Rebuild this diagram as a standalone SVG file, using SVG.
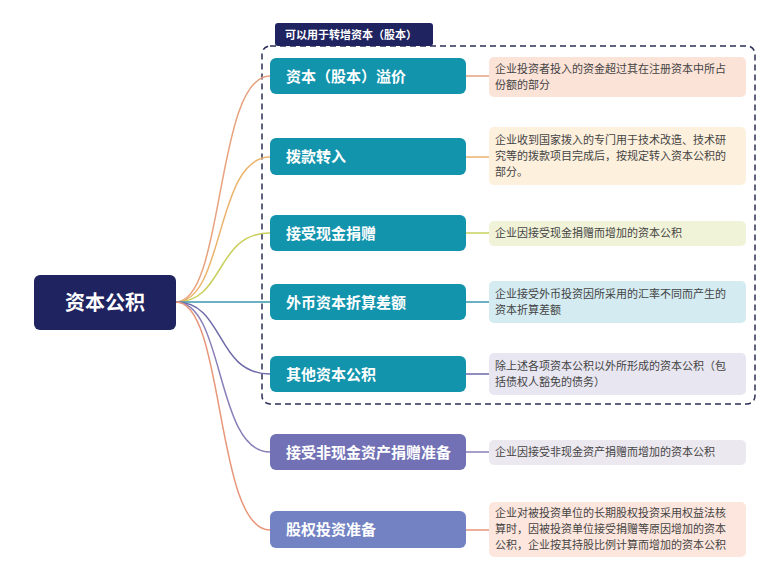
<svg xmlns="http://www.w3.org/2000/svg" width="764" height="568" viewBox="0 0 764 568">
<style>
.bt{font-family:"Noto Sans CJK SC","Liberation Sans",sans-serif;font-weight:bold;fill:#fff;font-size:15px}
.dt{font-family:"Noto Sans CJK SC","Liberation Sans",sans-serif;fill:#444;font-size:11px}
.c{fill:none;stroke-width:1.5}
</style>
<rect width="764" height="568" fill="#fff"/>
<g id="group">
<rect x="262" y="46" width="493" height="358" rx="8" fill="none" stroke="#2a2f55" stroke-width="1.5" stroke-dasharray="6 4"/>
<rect x="275" y="23" width="158" height="23" rx="3" fill="#1f2460"/>
<text x="285" y="39" font-family="Noto Sans CJK SC,sans-serif" font-size="11" font-weight="bold" fill="#fff">可以用于转增资本（股本）</text>
</g>
<g id="connectors">
<path class="c" stroke="#e8a27f" d="M176 302 C225 302 215 76 270 76 M466 76 H489"/>
<path class="c" stroke="#ecb36c" d="M176 302 C225 302 215 157 270 157 M466 157 H489"/>
<path class="c" stroke="#c9cf5e" d="M176 302 C225 302 215 233 270 233 M466 233 H489"/>
<path class="c" stroke="#3a98ad" d="M176 302 H270 M466 302 H489"/>
<path class="c" stroke="#6d6aa8" d="M176 302 C225 302 215 374 270 374 M466 374 H489"/>
<path class="c" stroke="#8a7fb8" d="M176 302 C225 302 215 452 270 452 M466 452 H489"/>
<path class="c" stroke="#e8977a" d="M176 302 C225 302 215 530 270 530 M466 530 H489"/>
</g>
<g id="root"><rect x="34" y="275" width="142" height="55" rx="6" fill="#1f2460"/><text x="105" y="310" text-anchor="middle" class="bt" font-size="20" style="font-size:20px">资本公积</text></g>
<g id="n1"><rect x="270" y="58" width="196" height="36" rx="6" fill="#1294ad"/><text x="286" y="82" class="bt">资本（股本）溢价</text>
<rect x="489" y="57" width="257" height="40" rx="5" fill="#fbe3d8"/><text x="495" y="73" class="dt">企业投资者投入的资金超过其在注册资本中所占</text><text x="495" y="89" class="dt">份额的部分</text></g>
<g id="n2"><rect x="270" y="138" width="196" height="37" rx="6" fill="#1294ad"/><text x="286" y="162" class="bt">拨款转入</text>
<rect x="489" y="127" width="257" height="58" rx="5" fill="#fdf0dc"/><text x="495" y="144" class="dt">企业收到国家拨入的专门用于技术改造、技术研</text><text x="495" y="160" class="dt">究等的拨款项目完成后，按规定转入资本公积的</text><text x="495" y="176" class="dt">部分。</text></g>
<g id="n3"><rect x="270" y="215" width="196" height="36" rx="6" fill="#1294ad"/><text x="286" y="239" class="bt">接受现金捐赠</text>
<rect x="489" y="221" width="257" height="25" rx="5" fill="#f1f3d8"/><text x="495" y="237" class="dt">企业因接受现金捐赠而增加的资本公积</text></g>
<g id="n4"><rect x="270" y="284" width="196" height="36" rx="6" fill="#1294ad"/><text x="286" y="308" class="bt">外币资本折算差额</text>
<rect x="489" y="281" width="257" height="42" rx="5" fill="#d3ebf1"/><text x="495" y="298" class="dt">企业接受外币投资因所采用的汇率不同而产生的</text><text x="495" y="314" class="dt">资本折算差额</text></g>
<g id="n5"><rect x="270" y="356" width="196" height="36" rx="6" fill="#1294ad"/><text x="286" y="380" class="bt">其他资本公积</text>
<rect x="489" y="353" width="257" height="42" rx="5" fill="#e8e6f1"/><text x="495" y="370" class="dt">除上述各项资本公积以外所形成的资本公积（包</text><text x="495" y="386" class="dt">括债权人豁免的债务）</text></g>
<g id="n6"><rect x="270" y="434" width="196" height="36" rx="6" fill="#7271b5"/><text x="286" y="458" class="bt">接受非现金资产捐赠准备</text>
<rect x="489" y="440" width="257" height="25" rx="5" fill="#ece8ef"/><text x="495" y="456" class="dt">企业因接受非现金资产捐赠而增加的资本公积</text></g>
<g id="n7"><rect x="270" y="511" width="196" height="37" rx="6" fill="#7282c3"/><text x="286" y="535" class="bt">股权投资准备</text>
<rect x="489" y="502" width="257" height="55" rx="5" fill="#fde6dd"/><text x="495" y="517" class="dt">企业对被投资单位的长期股权投资采用权益法核</text><text x="495" y="533" class="dt">算时，因被投资单位接受捐赠等原因增加的资本</text><text x="495" y="549" class="dt">公积，企业按其持股比例计算而增加的资本公积</text></g>
</svg>
